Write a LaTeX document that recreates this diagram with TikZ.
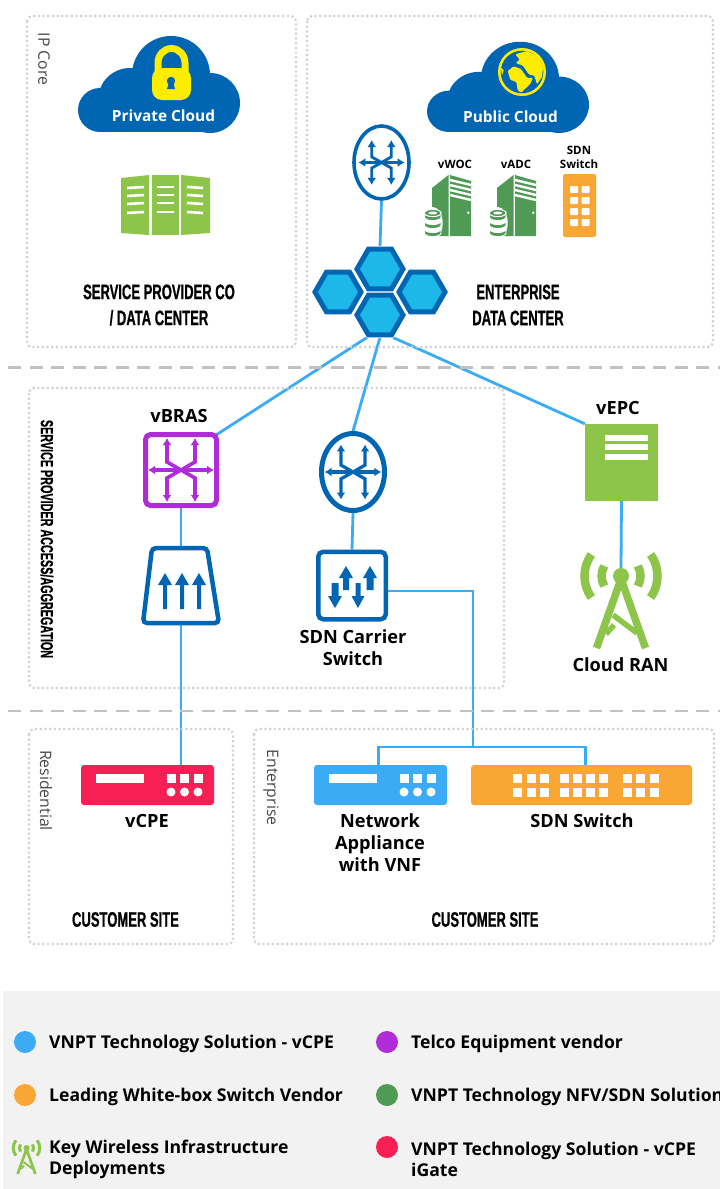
\documentclass[tikz,border=0pt]{standalone}
\usepackage{fontspec}
\setmainfont{Open Sans}
\newfontfamily\titlefont[FakeStretch=0.62,FakeBold=0.7]{Liberation Sans}
\usetikzlibrary{arrows.meta,backgrounds,calc,shapes.geometric}
\definecolor{cloudblue}{HTML}{0066B3}
\definecolor{hexblue}{HTML}{1CB8EA}
\definecolor{linkblue}{HTML}{3BABF5}
\definecolor{lockyellow}{HTML}{FFED00}
\definecolor{leafgreen}{HTML}{8DC54B}
\definecolor{servergreen}{HTML}{4F9A55}
\definecolor{boxorange}{HTML}{F9A635}
\definecolor{boxpurple}{HTML}{B02CD6}
\definecolor{boxred}{HTML}{F81F54}
\definecolor{framegray}{HTML}{D2D2D2}
\definecolor{legendgray}{HTML}{F2F2F2}
\tikzset{
	link/.style={draw=linkblue, line width=2.8},
	siteframe/.style={draw=framegray, line width=2.2, dash pattern=on 2.2 off 2.5, rounded corners=5},
	zoneline/.style={draw=framegray!92!black, line width=2.5, dash pattern=on 13 off 8.5},
	lbl/.style={font=\bfseries\fontsize{18.2}{22}\selectfont, align=center, inner sep=0},
	smalllbl/.style={font=\bfseries\fontsize{11.5}{14}\selectfont, align=center, inner sep=0},
	titlelbl/.style={font=\titlefont\bfseries\fontsize{21}{26}\selectfont, align=center, inner sep=0},
	sidelbl/.style={font=\fontsize{15.8}{18}\selectfont, text=black!72, rotate=-90, inner sep=0},
	legendlbl/.style={font=\bfseries\fontsize{17.6}{21}\selectfont, align=left, anchor=west, inner sep=0},
	cloudlbl/.style={font=\bfseries\fontsize{15.4}{18}\selectfont, text=white, inner sep=0},
	routernode/.style={ellipse, draw=cloudblue, fill=white, inner sep=0},
	hexcell/.style={regular polygon, regular polygon sides=6, minimum size=46, inner sep=0, fill=hexblue,
		draw=cloudblue, line width=5, preaction={draw=white, line width=6.2}},
	legenddot/.style={circle, minimum size=22, inner sep=0, fill=#1},
	glyphline/.style={line width=3, -{Latex[length=7pt,width=9pt]}},
}
\def\routerglyph[#1](#2)(#3){
	\begin{scope}[shift={(#2)},scale=#3]
		\draw[glyphline,{Latex[length=7pt,width=9pt]}-{Latex[length=7pt,width=9pt]},#1] (-33,0) -- (33,0);
		\foreach \sx in {-1,1}
			\foreach \sy in {-1,1}
				\draw[glyphline,#1] (0,0) -- (\sx*14,\sy*8) -- (\sx*14,\sy*32);
	\end{scope}
}
\def\fatarrow[#1](#2,#3)(#4)(#5)(#6){% x, tail, tip, shaft half width, head half width
	\fill[#1] (#2-#5,#3) -- (#2+#5,#3) -- (#2+#5,{#4+(#3-#4)/abs(#3-#4)*12}) -- (#2+#6,{#4+(#3-#4)/abs(#3-#4)*12})
		-- (#2,#4) -- (#2-#6,{#4+(#3-#4)/abs(#3-#4)*12}) -- (#2-#5,{#4+(#3-#4)/abs(#3-#4)*12}) -- cycle;
}
\def\cloudshape(#1)(#2){
	\begin{scope}[shift={(#1)},yscale=#2]
		\fill[cloudblue] (21,-22) circle (22) (51,-32) circle (32) (92,-57) circle (39) (131,-29) circle (30);
		\fill[cloudblue] (21,-30) rectangle (131,0);
	\end{scope}
}
\def\serverstack(#1){
	\begin{scope}[shift={(#1)}]
		\fill[servergreen] (0,13) -- (16.5,0) -- (16.5,61) -- (0,61) -- cycle;
		\fill[servergreen] (18,0) -- (39,6) -- (39,61) -- (18,61) -- cycle;
		\foreach \dy in {5,10,15,20}
			\draw[white, line width=2.4] (18,\dy) -- (39,\dy+5);
		\fill[white] (36.3,37.7) circle (1.4);
		\fill[white] (0.7,48) ellipse (10 and 16);
		\foreach \dy in {54,46,38}
			\draw[fill=servergreen, draw=white, line width=0.9] (-7.6,\dy) -- (-7.6,\dy+4) arc (180:0:8.3 and 3.6) -- (9,\dy) arc (0:180:8.3 and 3.6) -- cycle;
		\draw[fill=servergreen, draw=white, line width=0.9] (0.7,38) ellipse (8.3 and 3.6);
		\fill[white] (0.7,38) ellipse (4.5 and 1.5);
	\end{scope}
}
\def\towerbody(#1)(#2){
	\begin{scope}[shift={(#1)},scale=#2]
		\draw[leafgreen, line width=#2*7.5pt, miter limit=2] (-24.5,72) -- (0,3) -- (24.5,72);
		\draw[leafgreen, line width=#2*5.5pt] (-8,39) -- (16,57) (-7,49) -- (-15,58);
		\foreach \rr/\aa in {19.5/31, 36.5/36}{
			\draw[leafgreen, line width=#2*8.5pt] ({-\rr*cos(\aa)},{-\rr*sin(\aa)}) arc (180+\aa:180-\aa:\rr);
			\draw[leafgreen, line width=#2*8.5pt] ({\rr*cos(\aa)},{-\rr*sin(\aa)}) arc (-\aa:\aa:\rr);
		}
	\end{scope}
}
\begin{document}
\begin{tikzpicture}[x=1pt,y=-1pt]
		\useasboundingbox (0,0) rectangle (720,1189);
		%%%%% ZONES %%%%%
		\draw[siteframe] (27,16) rectangle (296,347);
		\draw[siteframe] (307,16) rectangle (713,347);
		\draw[siteframe] (29,388) rectangle (504,688);
		\draw[siteframe] (29,729) rectangle (233,944);
		\draw[siteframe] (254,729) rectangle (714,944);
		\draw[zoneline] (8,367.5) -- (720,367.5);
		\draw[zoneline] (8,711) -- (720,711);
		\fill[legendgray] (3,991) rectangle (720,1189);
		
		\node[sidelbl] (ipcore) at (44,59) {IP Core};
		\node[sidelbl] (residential) at (46,790.5) {Residential};
		\node[sidelbl] (enterprise) at (271,787.5) {Enterprise};
		\node[titlelbl, rotate=-90, font=\titlefont\bfseries\fontsize{17.4}{20}\selectfont] (access) at (47,539) {SERVICE PROVIDER ACCESS/AGGREGATION};
		
		%%%%% IP CORE %%%%%
		\cloudshape(79,132)(1)
		\fill[lockyellow, rounded corners=10] (152,68) rectangle (191,100);
		\draw[lockyellow, line width=7] (158,72) -- (158,63) arc (180:360:13.5 and 14.5) -- (185,72);
		\fill[cloudblue] (171,81) circle (4.2) (169,82) -- (173,82) -- (175,89) -- (167,89) -- cycle;
		\node[cloudlbl] (privatecloud) at (163.5,116) {Private Cloud};
		
		\fill[leafgreen] (121,178) -- (149,175) -- (149,235) -- (121,233) -- cycle;
		\fill[leafgreen] (152,175) rectangle (179,235);
		\fill[leafgreen] (181,175) -- (210,178) -- (210,233) -- (181,235) -- cycle;
		\foreach \yy in {187,195,203,212} {
			\draw[white, line width=2.6] (127,\yy+1) -- (144,\yy);
			\draw[white, line width=2.6] (157,\yy) -- (174,\yy);
			\draw[white, line width=2.6] (187,\yy) -- (203,\yy+1);
		}
		\node[titlelbl] (providertitle) at (159,305) {SERVICE PROVIDER CO\\/ DATA CENTER};
		
		%%%%% ENTERPRISE %%%%%
		\cloudshape(428,132)(0.94)
		\fill[lockyellow] (522,72) circle (24);
		\fill[cloudblue] (522,72) circle (21.3);
		\fill[lockyellow, rounded corners=1] (515.3,54.3) -- (527,51) -- (538.7,57) -- (543,67) -- (542,77) -- (537,84.3) -- (534.3,75.7) -- (528.7,74.3) -- (523,65.7) -- (515.7,63) -- (519.7,59.7) -- cycle;
		\fill[lockyellow, rounded corners=1] (507.7,71) -- (513.7,66.3) -- (521,69) -- (527,77.7) -- (533,78) -- (530.3,83.7) -- (525.3,88.7) -- (521,92.7) -- (517.7,90.3) -- (516.3,82) -- (510.3,79.7) -- cycle;
		\fill[lockyellow] (501,67.7) -- (503.7,70.3) -- (502,75.3) -- cycle;
		\node[cloudlbl] (publiccloud) at (510.5,117) {Public Cloud};
		
		\node[routernode, line width=3.6, minimum width=55, minimum height=73] (corerouter) at (381.5,162.5) {};
		\routerglyph[draw=cloudblue, line width=2.8](381.5,162.5)(0.7)
		
		\node[hexcell] (hexleft) at (338,292) {};
		\node[hexcell] (hexright) at (422,292) {};
		\node[hexcell] (hextop) at (380,269) {};
		\node[hexcell] (hexbottom) at (380,315) {};
		
		\node[smalllbl] (vwoc) at (455,164) {vWOC};
		\node[smalllbl] (vadc) at (516,164) {vADC};
		\node[smalllbl] (sdntop) at (579,157) {SDN\\Switch};
		\serverstack(432,175)
		\serverstack(497,175)
		\fill[boxorange, rounded corners=2] (563,174) rectangle (596,237);
		\foreach \yy in {186,197,208,219}
			\foreach \xx in {570,581.5}
				\fill[white, rounded corners=1] (\xx,\yy) rectangle (\xx+8,\yy+7);
		\node[titlelbl] (enterprisetitle) at (518,305) {ENTERPRISE\\DATA CENTER};
		
		%%%%% ACCESS %%%%%
		\node[lbl] (vbraslbl) at (179,416) {vBRAS};
		\node[draw=boxpurple, fill=white, line width=5, rounded corners=5, minimum size=71, inner sep=0] (vbras) at (181,470) {};
		\routerglyph[draw=boxpurple, line width=3.6](181,470)(1)
		
		\node[routernode, line width=5, minimum width=63, minimum height=77] (edgerouter) at (353,472) {};
		\routerglyph[draw=cloudblue, line width=3.2](353,472)(0.86)
		
		\draw[draw=cloudblue, fill=white, line width=4.5, rounded corners=4] (152,548) -- (207,548) -- (219,623) -- (143,623) -- cycle;
		\coordinate (olttop) at (181,546);
		\coordinate (oltbottom) at (181,625);
		\foreach \xx in {165,182,199} {
			\fatarrow[cloudblue](\xx,609)(573)(2)(7)
		}
		
		\node[draw=cloudblue, fill=white, line width=4.5, rounded corners=5, minimum size=67.5, inner sep=0] (carrier) at (352,585.5) {};
		\fatarrow[cloudblue](335,583)(608)(3.5)(7)
		\fatarrow[cloudblue](346,590)(566)(3)(7)
		\fatarrow[cloudblue](358,583)(608)(2.5)(6.5)
		\fatarrow[cloudblue](370,590)(566)(3.5)(7)
		\node[lbl] (carrierlbl) at (353,648) {SDN Carrier\\Switch};
		
		\node[lbl] (vepclbl) at (618,408) {vEPC};
		\node[fill=leafgreen, minimum width=73, minimum height=77, inner sep=0] (vepc) at (621.5,462.5) {};
		\foreach \yy in {438,447,457}
			\draw[white, line width=5.8] (605,\yy) -- (648,\yy);
		
		\towerbody(621,576)(1)
		\node[circle, fill=leafgreen, minimum size=16, inner sep=0] (ran) at (621,576) {};
		\node[lbl] (ranlbl) at (620.5,665) {Cloud RAN};
		
		%%%%% CUSTOMER %%%%%
		\node[fill=boxred, rounded corners=3, minimum width=133, minimum height=40, inner sep=0] (vcpe) at (147.5,785) {};
		\node[fill=linkblue, rounded corners=3, minimum width=133, minimum height=40, inner sep=0] (appliance) at (380.5,785) {};
		\foreach \dx in {0,233} {
			\fill[white] (95.5+\dx,774) rectangle (143.5+\dx,783);
			\foreach \xx in {166.5,180,193.5} {
				\fill[white] (\xx+\dx,774) rectangle (\xx+\dx+9,783);
				\fill[white] (\xx+\dx+4.5,792) circle (4.5);
			}
		}
		\node[fill=boxorange, rounded corners=3, minimum width=221, minimum height=40, inner sep=0] (sdnswitch) at (581.5,785) {};
		\foreach \xx in {513,526.6,540,559.6,572.6,585.8,599,623,636.3,649.5}
			\foreach \yy in {774,788}
				\fill[white] (\xx,\yy) rectangle (\xx+9,\yy+9);
		\node[lbl] (vcpelbl) at (147,821) {vCPE};
		\node[lbl, anchor=north] (appliancelbl) at (380,813) {Network\\Appliance\\with VNF};
		\node[lbl] (sdnlbl) at (582,821) {SDN Switch};
		\node[titlelbl] (site) at (125.5,919.5) {CUSTOMER SITE};
		\node[titlelbl] (sitetwo) at (485,919.5) {CUSTOMER SITE};
		
		%%%%% LINKS %%%%%
		\begin{scope}[on background layer]
			\coordinate (busjoin) at (473,747);
			\draw[link] (corerouter.south) -- (hextop.north);
			\draw[link] (hexbottom.corner 4) -- ([shift={(-3,3)}]vbras.north east);
			\draw[link] (hexbottom.south) -- (edgerouter.north);
			\draw[link] (hexbottom.corner 5) -- (vepc.north west);
			\draw[link] (edgerouter.south) -- (carrier.north);
			\draw[link] (vbras.south) -- (olttop);
			\draw[link] (oltbottom) -- (oltbottom |- vcpe.north);
			\draw[link] (vepc.south) -- (ran.north);
			\draw[link] ([yshift=-5.5]carrier.east) -| (busjoin);
			\draw[link] ([xshift=-2]appliance.north) |- (busjoin);
			\draw[link] ([xshift=4]sdnswitch.north) |- (busjoin);
		\end{scope}
		
		%%%%% LEGEND %%%%%
		\node[legenddot=linkblue] (dotsolution) at (25,1042) {};
		\node[legenddot=boxorange] (dotvendor) at (25,1095) {};
		\towerbody(26.5,1148)(0.36)
		\fill[leafgreen] (26.5,1148) circle (3);
		\node[legenddot=boxpurple] (dottelco) at (387,1042) {};
		\node[legenddot=servergreen] (dotnfv) at (387,1095) {};
		\node[legenddot=boxred] (dotigate) at (387,1147) {};
		\node[legendlbl] (lblsolution) at (49,1044) {VNPT Technology Solution - vCPE};
		\node[legendlbl] (lblvendor) at (49,1097) {Leading White-box Switch Vendor};
		\node[legendlbl] (lblwireless) at (49,1159.5) {Key Wireless Infrastructure\\Deployments};
		\node[legendlbl] (lbltelco) at (411,1044) {Telco Equipment vendor};
		\node[legendlbl] (lblnfv) at (411,1097) {VNPT Technology NFV/SDN Solution};
		\node[legendlbl] (lbligate) at (411,1159.5) {VNPT Technology Solution - vCPE\\iGate};
	\end{tikzpicture}
\end{document}
